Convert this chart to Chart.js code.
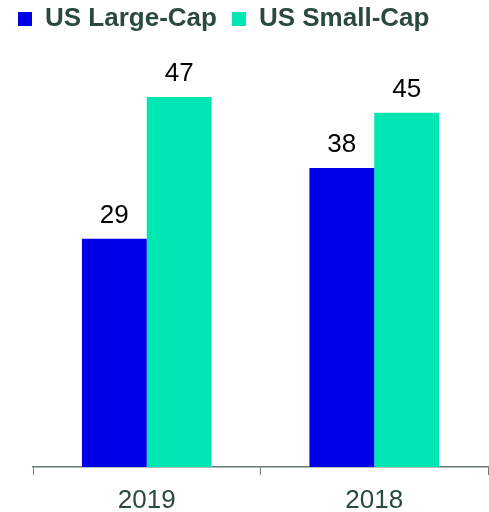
<!DOCTYPE html>
<html>
<head>
<meta charset="utf-8">
<script src="https://cdn.jsdelivr.net/npm/chart.js@4/dist/chart.umd.min.js"></script>
<style>
html,body{margin:0;padding:0;background:#fff;}
#wrap{width:489px;height:512px;position:relative;}
</style>
</head>
<body>
<div id="wrap"><canvas id="c" width="489" height="512"></canvas></div>
<script>
const categories = ["2019", "2018"];
const largeCap = [29, 38];
const smallCap = [47, 45];
const seriesNames = ["US Large-Cap", "US Small-Cap"];

const valueLabels = {
  id: 'valueLabels',
  afterDatasetsDraw(chart) {
    const ctx = chart.ctx;
    ctx.save();
    ctx.font = '26px "Liberation Sans", Arial, sans-serif';
    ctx.fillStyle = '#000000';
    ctx.textAlign = 'center';
    ctx.textBaseline = 'alphabetic';
    chart.data.datasets.forEach((ds, i) => {
      const meta = chart.getDatasetMeta(i);
      meta.data.forEach((bar, j) => {
        ctx.fillText(String(ds.data[j]), bar.x, bar.y - 16);
      });
    });
    ctx.restore();
  }
};

new Chart(document.getElementById('c'), {
  type: 'bar',
  data: {
    labels: categories,
    datasets: [
      { label: seriesNames[0], data: largeCap, backgroundColor: '#0000E6', borderWidth: 0 },
      { label: seriesNames[1], data: smallCap, backgroundColor: '#00E6B2', borderWidth: 0 }
    ]
  },
  options: {
    responsive: false,
    animation: false,
    devicePixelRatio: 1,
    layout: { padding: { left: 3, right: 1, top: -9, bottom: 0 } },
    datasets: { bar: { categoryPercentage: 0.57, barPercentage: 1.0 } },
    plugins: {
      legend: {
        display: true,
        position: 'top',
        align: 'start',
        labels: {
          boxWidth: 14,
          boxHeight: 14,
          padding: 15,
          color: '#2B4A3D',
          font: { family: '"Liberation Sans", Arial, sans-serif', size: 26, weight: 'bold' }
        }
      },
      tooltip: { enabled: false }
    },
    scales: {
      x: {
        grid: { display: true, drawOnChartArea: false, drawTicks: true, tickLength: 8, color: '#6B7A74', offset: true },
        border: { display: true, color: '#6B7A74', width: 1.5 },
        ticks: { color: '#2B4A3D', padding: 10, font: { family: '"Liberation Sans", Arial, sans-serif', size: 26 } },
        afterFit(scale) { scale.height = 45; }
      },
      y: {
        display: true,
        min: 0,
        max: 54,
        grid: { display: false },
        border: { display: false },
        ticks: { display: false },
        afterFit(scale) { scale.width = 30; }
      }
    }
  },
  plugins: [valueLabels]
});
</script>
</body>
</html>
